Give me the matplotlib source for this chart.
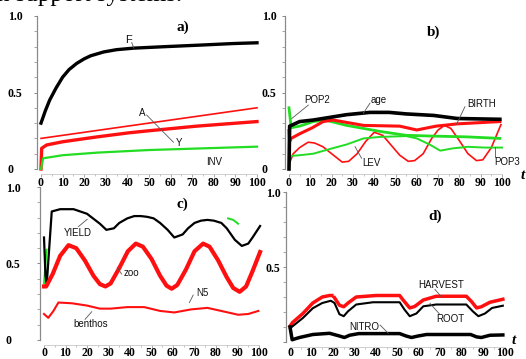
import numpy as np
import matplotlib
matplotlib.use("Agg")
import matplotlib.pyplot as plt

W, H = 526, 359
RED = "#ff1010"
GREEN = "#22dd22"

# ---------------- data ----------------
ticks_x = [0, 10, 20, 30, 40, 50, 60, 70, 80, 90, 100]
ticks_y = [0, 0.5, 1.0]

# panel a
F_t = [0, 2, 4, 7, 10, 13, 16.5, 20, 23, 29, 35, 43, 58, 74, 89, 100]
F_v = [0.30, 0.38, 0.45, 0.53, 0.60, 0.65, 0.69, 0.72, 0.74, 0.765, 0.78, 0.79, 0.80, 0.81, 0.82, 0.825]
A_t = [0, 100]
A_v = [0.20, 0.40]
Y_t = [0, 0.3, 2.6, 10, 26, 41, 50, 72, 100]
Y_v = [0, 0.135, 0.157, 0.178, 0.21, 0.237, 0.25, 0.28, 0.31]
INV_t = [0, 1, 10, 26, 50, 100]
INV_v = [0, 0.07, 0.09, 0.107, 0.124, 0.146]

# panel b
BIRTH_t = [0, 0.3, 5, 11.4, 27, 38, 47, 55, 68, 79, 99]
BIRTH_v = [0, 0.28, 0.31, 0.32, 0.355, 0.37, 0.37, 0.36, 0.35, 0.33, 0.325]
REDB_t = [0, 0.3, 1, 5, 11, 16, 20.7, 35, 52, 60, 69, 79, 99]
REDB_v = [0.25, 0.18, 0.20, 0.23, 0.27, 0.31, 0.32, 0.285, 0.28, 0.255, 0.28, 0.295, 0.31]
POP2_t = [0, 1, 5, 11.4, 17, 27, 43, 55, 68, 83.5, 99]
POP2_v = [0.40, 0.27, 0.28, 0.31, 0.32, 0.285, 0.245, 0.22, 0.215, 0.21, 0.20]
POP3_t = [0, 0.3, 5, 11.4, 19, 27, 35, 43, 55, 60, 66, 71, 77, 84, 92, 100]
POP3_v = [0, 0.085, 0.09, 0.10, 0.13, 0.16, 0.20, 0.21, 0.215, 0.20, 0.16, 0.12, 0.135, 0.145, 0.14, 0.14]
LEV_t = [0, 2, 5, 9, 12, 16, 20, 25, 28, 32, 36, 40, 44, 48, 52, 56, 59, 63, 67, 70, 73, 76,
         80, 84, 88, 91, 95, 99.5]
LEV_v = [0.03, 0.10, 0.14, 0.175, 0.17, 0.145, 0.10, 0.045, 0.05, 0.10, 0.18, 0.24, 0.22,
         0.155, 0.09, 0.05, 0.055, 0.10, 0.20, 0.255, 0.285, 0.265, 0.185, 0.10, 0.055,
         0.06, 0.14, 0.29]

# panel c
YIELD_t = [0, 0.7, 1.3, 3.6, 7.5, 13.75, 20, 26, 29, 32.5, 35, 38.75, 42, 45, 48, 51, 54,
           57.5, 60.6, 64.5, 67, 70, 73, 76, 79, 82.5, 85, 88.75, 92, 95, 97, 100.5]
YIELD_v = [0.67, 0.42, 0.37, 0.84, 0.855, 0.855, 0.825, 0.76, 0.72, 0.73, 0.765, 0.795,
           0.81, 0.81, 0.805, 0.795, 0.765, 0.72, 0.67, 0.69, 0.73, 0.765, 0.78, 0.785,
           0.78, 0.765, 0.73, 0.655, 0.615, 0.63, 0.67, 0.745]
ZOO_t = [0, 1, 4, 7.5, 11.4, 15, 19, 23, 26, 28.6, 31, 35, 39, 42.7, 46, 50, 54, 57, 59.4,
         62, 66, 70, 74, 77, 81, 85, 88, 91, 94, 97, 100.5]
ZOO_v = [0.35, 0.35, 0.43, 0.55, 0.62, 0.60, 0.52, 0.42, 0.365, 0.35, 0.37, 0.47, 0.58,
         0.63, 0.61, 0.53, 0.42, 0.355, 0.335, 0.36, 0.46, 0.58, 0.63, 0.61, 0.52, 0.41,
         0.34, 0.315, 0.35, 0.45, 0.575]
N5_t = [0, 2, 4.4, 6.7, 13, 20, 26, 31, 38.75, 46.6, 54, 60.6, 68.4, 76, 85.6, 90.3, 95, 99.7]
N5_v = [0.17, 0.145, 0.19, 0.245, 0.24, 0.225, 0.205, 0.205, 0.215, 0.215, 0.19, 0.18,
        0.20, 0.21, 0.18, 0.165, 0.17, 0.19]
GC1_t = [0, 1.2]
GC1_v = [0.37, 0.59]
GC2_t = [85.6, 88, 90.3]
GC2_v = [0.795, 0.785, 0.76]

# panel d
HARV_t = [0, 1.2, 6, 10.6, 15, 18.4, 19.5, 19.8, 20.7, 23, 25, 27, 30.8, 40, 51, 52.6, 55.7,
          58, 62, 68, 82, 84.4, 86.8, 89, 93, 99]
HARV_v = [0.105, 0.13, 0.19, 0.26, 0.30, 0.31, 0.31, np.nan, 0.295, 0.245, 0.235, 0.26,
          0.30, 0.31, 0.31, 0.28, 0.227, 0.237, 0.28, 0.305, 0.305, 0.27, 0.227, 0.235,
          0.265, 0.285]
ROOT_t = [0, 1.2, 6, 10.6, 15, 19, 20.7, 23, 25, 27, 30.8, 38.6, 51, 53.3, 55.7, 58.8, 62,
          68, 82, 85, 87.6, 90.7, 94, 99]
ROOT_v = [0.09, 0.105, 0.16, 0.225, 0.26, 0.275, 0.26, 0.185, 0.172, 0.205, 0.25, 0.265,
          0.265, 0.215, 0.172, 0.19, 0.238, 0.25, 0.25, 0.205, 0.172, 0.19, 0.227, 0.242]
NITRO_t = [0, 1, 4.4, 10.6, 18.4, 23, 25.3, 27.7, 32, 51, 54, 56.5, 59.6, 63.5, 84, 86.8,
           89, 93, 99]
NITRO_v = [0.10, 0.015, 0.03, 0.05, 0.058, 0.04, 0.03, 0.045, 0.056, 0.056, 0.04, 0.03,
           0.04, 0.05, 0.05, 0.034, 0.03, 0.045, 0.047]

# ---------------- layout helpers ----------------
fig = plt.figure(figsize=(W / 100, H / 100), dpi=100)
XL = (-2, 103)
YL = (-0.03, 1.03)


def make_ax(px0, px100, py0, py1, lab_left, show_zero=True, xpad=0.4):
    sx = (px100 - px0) / 100.0
    sy = (py0 - py1)
    left = px0 + XL[0] * sx
    right = px0 + XL[1] * sx
    bottom = py0 - YL[0] * sy
    top = py0 - YL[1] * sy
    ax = fig.add_axes([left / W, 1 - bottom / H, (right - left) / W, (bottom - top) / H])
    ax.set_xlim(*XL)
    ax.set_ylim(*YL)
    ax.patch.set_alpha(0)
    for s in ("top", "right"):
        ax.spines[s].set_visible(False)
    ax.spines["left"].set_bounds(0, 1)
    ax.spines["left"].set_color("#8a8a8a")
    ax.spines["left"].set_linewidth(0.9)
    ax.spines["bottom"].set_bounds(0, 100)
    ax.spines["bottom"].set_color("#c8c8c8")
    ax.spines["bottom"].set_linewidth(0.6)
    ax.set_xticks(ticks_x)
    ax.set_xticklabels([str(v) for v in ticks_x])
    ax.set_xticks(np.arange(5, 100, 10), minor=True)
    ax.set_yticks(ticks_y)
    labs = ["0", "0.5", "1.0"]
    if not show_zero:
        labs[0] = ""
    ax.set_yticklabels(labs)
    ax.set_yticks(np.arange(0.1, 1.0, 0.1), minor=True)
    ax.tick_params(axis="x", which="major", length=2, width=0.6, color="#999999", pad=xpad,
                   labelsize=8.5)
    ax.tick_params(axis="x", which="minor", length=1.5, width=0.5, color="#aaaaaa")
    pad = (px0 - lab_left) * 0.72 - 2.5
    ax.tick_params(axis="y", which="major", length=2.5, width=0.7, color="#888888", pad=pad,
                   labelsize=8.5)
    ax.tick_params(axis="y", which="minor", length=2, width=0.6, color="#999999")
    for lbl in ax.get_xticklabels() + ax.get_yticklabels():
        lbl.set_fontfamily("Liberation Serif")
        lbl.set_fontweight("bold")
    for lbl in ax.get_yticklabels():
        lbl.set_ha("left")
    return ax


def label(ax, x, y, s, size=7, **kw):
    ax.text(x, y, s, fontsize=size, family="Liberation Sans", ha="center", va="center",
            color="#111111", clip_on=False, **kw)


def leader(ax, x0, y0, x1, y1):
    ax.plot([x0, x1], [y0, y1], color="#555555", lw=0.6, clip_on=False)


def panel_letter(ax, x, y, s):
    ax.text(x, y, s, fontsize=11, family="Liberation Serif", fontweight="bold",
            ha="center", va="center")


# ---------------- panel a ----------------
ax = make_ax(41, 257, 169, 16, 12)
ax.plot(F_t, F_v, color="black", lw=2.4, clip_on=False)
ax.plot(A_t, A_v, color=RED, lw=1.2, clip_on=False)
ax.plot(Y_t, Y_v, color=RED, lw=2.4, clip_on=False)
ax.plot(INV_t, INV_v, color=GREEN, lw=1.6, clip_on=False)
label(ax, 40.3, 0.845, "F", size=8)
leader(ax, 42, 0.826, 43, 0.79)
label(ax, 47, 0.364, "A")
leader(ax, 48.9, 0.353, 61.3, 0.175)
label(ax, 64, 0.17, "Y")
label(ax, 80, 0.044, "INV")
panel_letter(ax, 65.7, 0.925, "a)")

# ---------------- panel b ----------------
ax = make_ax(289, 502, 169, 16, 266)
ax.plot(LEV_t, LEV_v, color=RED, lw=1.2, clip_on=False)
ax.plot(POP3_t, POP3_v, color=GREEN, lw=1.4, clip_on=False)
ax.plot(POP2_t, POP2_v, color=GREEN, lw=2.0, clip_on=False)
ax.plot(REDB_t, REDB_v, color=RED, lw=2.2, clip_on=False)
ax.plot(BIRTH_t, BIRTH_v, color="black", lw=2.6, clip_on=False)
label(ax, 13.4, 0.45, "POP2")
leader(ax, 9.1, 0.418, 1.3, 0.33)
label(ax, 42.3, 0.45, "age")
leader(ax, 38, 0.43, 34.9, 0.364)
label(ax, 90.5, 0.427, "BIRTH")
leader(ax, 82.6, 0.407, 78.7, 0.294)
label(ax, 38.8, 0.04, "LEV")
leader(ax, 34.1, 0.07, 31, 0.146)
label(ax, 102.2, 0.044, "POP3")
leader(ax, 96.7, 0.08, 96.7, 0.146)
panel_letter(ax, 67.8, 0.897, "b)")

# ---------------- panel c ----------------
ax = make_ax(44, 259, 340, 187, 10, xpad=-0.5)
ax.plot(GC1_t, GC1_v, color=GREEN, lw=1.4, clip_on=False)
ax.plot(YIELD_t, YIELD_v, color="black", lw=1.6, clip_on=False)
ax.plot(ZOO_t, ZOO_v, color=RED, lw=3.0, clip_on=False)
ax.plot(N5_t, N5_v, color=RED, lw=1.5, clip_on=False)
ax.plot(GC2_t, GC2_v, color=GREEN, lw=1.4, clip_on=False)
label(ax, 15.6, 0.70, "YIELD")
leader(ax, 16, 0.741, 20.1, 0.789)
label(ax, 40.6, 0.438, "zoo")
leader(ax, 36.1, 0.431, 34.1, 0.475)
label(ax, 73.5, 0.305, "N5")
leader(ax, 69.4, 0.294, 67.6, 0.244)
label(ax, 21.8, 0.105, "benthos")
leader(ax, 19.1, 0.135, 22.2, 0.185)
panel_letter(ax, 64.5, 0.89, "c)")

# ---------------- panel d ----------------
ax = make_ax(290, 505, 342, 192, 270, show_zero=False, xpad=-1.5)
ax.plot(HARV_t, HARV_v, color=RED, lw=2.5, clip_on=False)
ax.plot(ROOT_t, ROOT_v, color="black", lw=1.5, clip_on=False)
ax.plot(NITRO_t, NITRO_v, color="black", lw=2.5, clip_on=False)
label(ax, 70.1, 0.378, "HARVEST")
leader(ax, 67.4, 0.351, 70.6, 0.298)
label(ax, 74.4, 0.153, "ROOT")
leader(ax, 69.5, 0.187, 65.1, 0.258)
label(ax, 34.5, 0.102, "NITRO")
leader(ax, 41.9, 0.113, 45.7, 0.058)
panel_letter(ax, 67.4, 0.835, "d)")
ax.text(104, 0.01, "t", fontsize=11, family="Liberation Serif", fontweight="bold",
        style="italic", ha="center", va="center", clip_on=False)

# stray texts at figure edges
fig.text(521 / W, 1 - 176 / H, "t", fontsize=11, family="Liberation Serif",
         fontweight="bold", style="italic", ha="left", va="center")
fig.text(-3 / W, 1 - 0.5 / H, "n support systems.", fontsize=18, family="Liberation Serif",
         ha="left", va="baseline")

fig.savefig("out.png", dpi=100)
